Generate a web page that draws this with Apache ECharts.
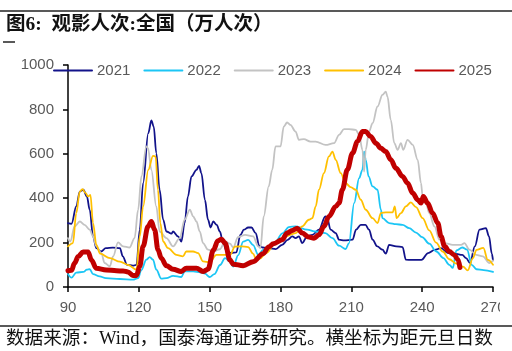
<!DOCTYPE html>
<html><head><meta charset="utf-8">
<script src="https://cdn.jsdelivr.net/npm/echarts@6/dist/echarts.min.js"></script>
<style>html,body{margin:0;padding:0;background:#fff}#c{width:512px;height:351px}</style>
</head><body><div id="c"></div>
<script>
// [day since New Year, attendance (10k)]
const s2021 = [[90,288],[91.5,285],[93.5,363],[95,430],[96.5,438],[98,408],[99.2,348],[100.6,228],[102,175],[104,160],[106,175],[109,177],[112,175],[113.2,138],[115,100],[117.5,96],[119,100],[120.4,258],[121.8,468],[124,693],[125.3,750],[126.3,723],[127.4,603],[128.8,438],[130.3,303],[131.7,250],[133.8,240],[134.5,250],[136.6,228],[138,205],[139.4,288],[140.8,408],[142.3,498],[144.4,528],[145.5,546],[146.5,513],[148,392],[149.3,303],[150.4,268],[151.5,295],[153,280],[154.3,250],[155.7,200],[157.2,160],[159.2,153],[161.3,156],[163,235],[164.5,258],[166.3,268],[167.7,268],[169.5,243],[171,185],[172.5,178],[175,175],[178,171],[180.7,190],[183,212],[185,228],[186.4,220],[187.8,228],[189.2,198],[191.3,228],[193.5,235],[196.3,258],[199,318],[199.8,310],[201.2,258],[203.4,243],[204.8,213],[207,210],[210.5,213],[212,258],[214,280],[216,280],[217.5,258],[219,213],[221,183],[223.2,168],[224.6,150],[226,190],[229,183],[231.7,180],[233.1,123],[235.5,122],[239.7,122],[242.5,153],[245.3,167],[248,175],[251,153],[254,150],[257,145],[258.6,130],[260.3,108],[262.3,183],[264.3,258],[267,265],[268.3,228],[269.5,150],[270,120]];
const s2022 = [[90,58],[91.5,42],[93.5,65],[96.5,68],[98,78],[99.2,80],[100.6,58],[103.4,48],[106,40],[112,36],[117.5,33],[119.7,40],[121,75],[123.2,123],[124.6,135],[126,123],[127.4,78],[129.5,38],[131.7,40],[134.5,50],[138,45],[139.4,70],[143,70],[146,66],[148,60],[150,45],[152,58],[154.4,99],[156.5,130],[158.6,114],[160,92],[162.1,144],[164.2,204],[166.3,212],[168.4,189],[170.6,144],[172.6,167],[176.9,189],[181,243],[183.5,270],[186.4,273],[191.3,258],[194.9,250],[199,243],[202,220],[204.8,186],[207.6,171],[209,198],[211.2,378],[213.3,490],[214.7,528],[215.4,610],[216.1,573],[217.3,498],[219,453],[221.1,438],[222.5,348],[223.2,310],[226,288],[228.9,283],[231.7,280],[234.5,265],[237.4,245],[240,225],[243,195],[246,160],[249,130],[251.5,100],[253,86],[254.5,165],[257,178],[259,168],[261,100],[263,80],[266,76],[270,68]];
const s2023 = [[90,220],[91,205],[92.8,273],[95,295],[97,280],[99.2,258],[100.6,228],[102,183],[104.1,153],[105.5,108],[107.7,93],[109.1,138],[111.2,201],[113.3,183],[116.1,178],[118.2,220],[119.7,348],[121.1,498],[123.2,633],[123.9,625],[125.3,528],[127.4,363],[128.8,250],[131.7,220],[134.5,183],[137.3,220],[139.4,303],[141.6,348],[143,318],[144.4,295],[145.8,250],[147.2,198],[149.3,168],[151.4,160],[154.3,170],[156.5,205],[158.6,195],[160,178],[162,225],[165,235],[168.4,228],[170.6,183],[171.5,175],[172.9,318],[175,453],[176.5,528],[177.9,633],[180,633],[181.4,723],[182.8,741],[184.2,730],[186.4,700],[187.8,663],[189.9,666],[192.7,655],[194.9,655],[199.1,640],[202.7,648],[204.8,685],[206.9,711],[209,711],[211.9,708],[213.3,685],[214.7,618],[215.4,520],[216.1,618],[217.5,700],[219,738],[221.1,813],[223.2,866],[224.6,880],[225.3,858],[226.7,753],[228.2,648],[229.6,618],[231,648],[232,618],[233.8,663],[236,640],[238.1,573],[239.5,468],[240.2,408],[241.6,378],[243,333],[245.2,273],[247.3,213],[249.4,198],[253,190],[256.5,190],[257.9,198],[260,168],[262.9,145],[265.7,138],[268.5,108],[270,120]];
const s2024 = [[90,183],[92.1,198],[93.5,333],[95,430],[96.1,441],[97.5,423],[98.5,408],[99.5,415],[100.6,288],[102,190],[103.6,150],[107.8,130],[112,114],[115.5,99],[119,78],[120.4,228],[121.8,363],[124,528],[126,591],[127.1,588],[128.1,438],[129.1,288],[130.3,205],[132.4,175],[135.9,145],[138.7,138],[140.1,160],[143,160],[145.1,153],[147.2,115],[150,112],[152.9,145],[157,145],[158.6,144],[160.7,182],[163.4,183],[166.3,180],[168.4,150],[169.8,123],[171.3,128],[174,153],[177.9,200],[182.1,228],[186.4,243],[189.2,273],[192,303],[193.5,310],[194.9,363],[196.3,438],[198.4,513],[200.5,588],[202,610],[203.4,573],[205.5,513],[207.6,468],[209.7,450],[211.9,438],[214,393],[216.1,348],[219,310],[221.1,288],[222.5,333],[224.6,336],[227.5,336],[228.4,363],[229.2,310],[231,333],[233.1,363],[235.2,381],[237.4,360],[240.2,310],[243,255],[245.9,200],[248.7,160],[251.5,125],[254.4,105],[257.3,92],[259.3,75],[261.5,130],[263,167],[265.9,176],[267.8,122],[270,100]];
const s2025 = [[90,73],[91.5,75],[92.8,108],[94.3,137],[96.4,158],[98.5,158],[99.9,122],[102,84],[106.2,77],[110.5,73],[113.3,72],[115.4,68],[117.5,52],[119,52],[120.4,93],[121.8,183],[123.9,273],[125.3,295],[126.7,258],[128.1,168],[129.5,130],[131.7,96],[134.5,80],[138,70],[140.1,85],[144.4,85],[147.2,70],[149.3,80],[151.6,167],[153.5,208],[155,215],[156.5,198],[158.6,122],[160,103],[164.2,96],[168.4,114],[172.6,150],[175,180],[177,195],[180.7,213],[182.8,243],[185,255],[187.1,265],[189.2,243],[192,225],[194.2,220],[196.3,235],[198.4,273],[200.5,318],[203.4,363],[204.8,378],[206.2,438],[208.3,528],[210.5,603],[212.6,655],[214.7,700],[216.1,700],[218.2,678],[220.4,648],[222.5,625],[224.6,610],[226.7,573],[228.9,535],[231.7,498],[233.8,468],[236,423],[238.1,393],[239.5,378],[240.5,408],[242.3,378],[244.4,333],[246.6,288],[248,228],[249.5,183],[251.5,160],[253.5,145],[255.1,125],[256,88]];
const seriesNames = ['2021','2022','2023','2024','2025'];
const seriesData = [s2021, s2022, s2023, s2024, s2025];
const colors = ['#12138A','#1CC6F5','#C3C3C3','#FFC000','#C00000'];
const widths = [1.8,1.8,1.8,1.8,5];
const xTicks = {min:90, max:270, interval:30};
const yTicks = {min:0, max:1000, interval:200};

const chart = echarts.init(document.getElementById('c'), null, {renderer:'canvas'});
const lab = {color:'#595959', fontSize:15, fontFamily:'Liberation Sans, Arial, sans-serif'};
chart.setOption({
  animation:false,
  backgroundColor:'#fff',
  grid:{left:68, right:19, top:65, bottom:64, containLabel:false},
  legend:{
    left:48, top:58, itemWidth:38, itemHeight:14, itemGap:13,
    itemStyle:{opacity:0},
    textStyle:lab,
    data:seriesNames
  },
  xAxis:{type:'value', min:xTicks.min, max:xTicks.max, interval:xTicks.interval,
    axisLine:{lineStyle:{color:'#000', width:1.5}},
    axisTick:{show:true, length:5, lineStyle:{color:'#000', width:1.5}},
    axisLabel:Object.assign({margin:13, formatter:v=>String(v)}, lab),
    splitLine:{show:false}},
  yAxis:{type:'value', min:yTicks.min, max:yTicks.max, interval:yTicks.interval,
    axisLine:{show:true, lineStyle:{color:'#000', width:1.5}},
    axisTick:{show:true, length:5, lineStyle:{color:'#000', width:1.5}},
    axisLabel:Object.assign({margin:14, formatter:v=>String(v)}, lab),
    splitLine:{show:false}},
  series: seriesNames.map((n,i)=>({
    name:n, type:'line', data:seriesData[i], symbol:'none', showSymbol:false,
    smooth:0.35, smoothMonotone:'x', z: i===4 ? 10 : 2+i,
    lineStyle:{color:colors[i], width:widths[i], cap:'round', join:'round'},
    itemStyle:{color:colors[i]}
  })),
  graphic:[
    {type:'line', shape:{x1:0,y1:11,x2:512,y2:11}, style:{stroke:'#222', lineWidth:1.5}, silent:true},
    {type:'line', shape:{x1:3,y1:42,x2:15,y2:42}, style:{stroke:'#222', lineWidth:1.5}, silent:true},
    {type:'text', left:6, top:15, style:{text:'图6:  观影人次:全国（万人次）', fill:'#111',
      font:'bold 19.5px "Liberation Serif", "Noto Sans CJK SC", serif'}},
    {type:'line', shape:{x1:0,y1:326,x2:512,y2:326}, style:{stroke:'#222', lineWidth:1.5}, silent:true},
    {type:'text', left:6, top:330, style:{text:'数据来源：Wind，国泰海通证券研究。横坐标为距元旦日数', fill:'#111',
      font:'18.6px "Liberation Serif", "Noto Sans CJK SC", serif'}},
    {type:'rect', shape:{x:500,y:296,width:12,height:24}, style:{fill:'#fff'}, z:100, silent:true}
  ]
});
</script></body></html>
